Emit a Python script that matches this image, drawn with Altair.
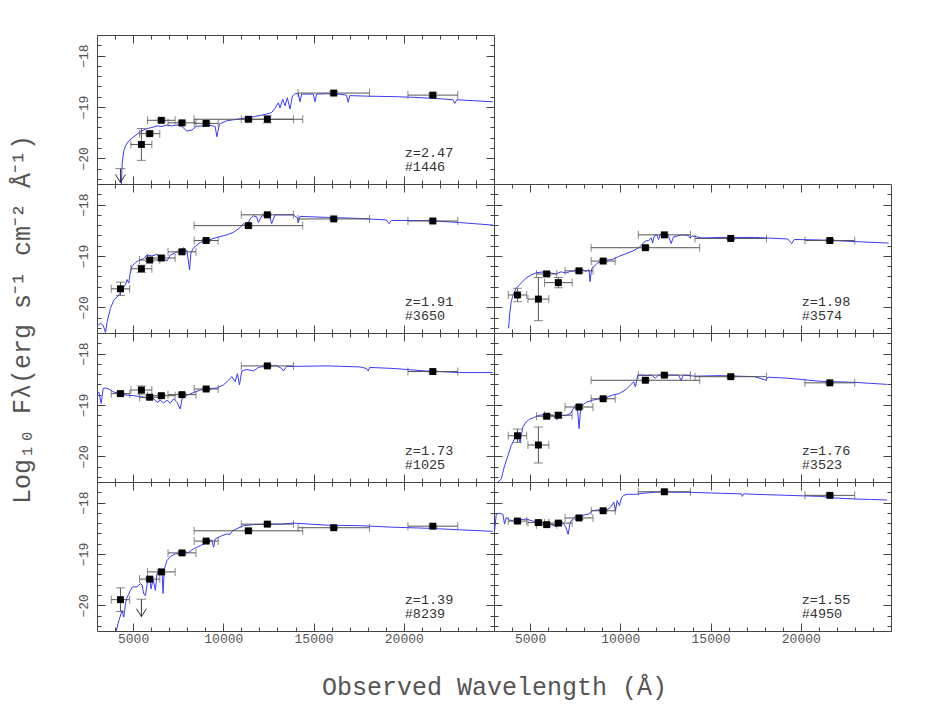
import altair as alt
import pandas as pd

# ---------------- data ----------------
# filter centres and half-widths (Angstrom), shared by all panels
FILTER_WL = [4300, 5460, 5920, 6565, 7710, 9050, 11390, 12440, 16120, 21610]
FILTER_HW = [510, 580, 560, 765, 775, 665, 3010, 1445, 1980, 1380]

PANEL_Z = ["z=2.47", "z=1.91", "z=1.98", "z=1.73", "z=1.76", "z=1.39", "z=1.55"]
PANEL_ID = ["#1446", "#3650", "#3574", "#1025", "#3523", "#8239", "#4950"]

# log10 flux per filter (None = no detection / not observed) and its error
P1_FLUX = [None, -19.73, -19.52, -19.26, -19.31, -19.32, -19.24, -19.24, -18.73, -18.77]
P1_ERR = [0, 0.31, 0.03, 0.03, 0.03, 0.03, 0.03, 0.07, 0.03, 0.03]
P2_FLUX = [-19.64, -19.25, -19.08, -19.04, -18.92, -18.70, -18.41, -18.20, -18.28, -18.32]
P2_ERR = [0.13, 0.07, 0.03, 0.04, 0.03, 0.02, 0.03, 0.02, 0.02, 0.02]
P3_FLUX = [-19.76, -19.84, -19.35, -19.52, -19.29, -19.10, -18.84, -18.59, -18.66, -18.70]
P3_ERR = [0.13, 0.42, 0.03, 0.10, 0.03, 0.02, 0.03, 0.02, 0.02, 0.02]
P4_FLUX = [-18.78, -18.71, -18.85, -18.82, -18.80, -18.69, None, -18.24, None, -18.35]
P4_ERR = [0.03, 0.08, 0.03, 0.03, 0.03, 0.02, 0, 0.02, 0, 0.02]
P5_FLUX = [-19.60, -19.78, -19.22, -19.20, -19.04, -18.88, -18.52, -18.42, -18.45, -18.57]
P5_ERR = [0.13, 0.35, 0.03, 0.05, 0.03, 0.02, 0.02, 0.02, 0.02, 0.02]
P6_FLUX = [-19.89, None, -19.49, -19.35, -18.98, -18.75, -18.55, -18.42, -18.49, -18.46]
P6_ERR = [0.23, 0, 0.03, 0.04, 0.03, 0.02, 0.02, 0.02, 0.02, 0.02]
P7_FLUX = [-18.36, -18.39, -18.43, -18.40, -18.30, -18.16, None, -17.79, None, -17.86]
P7_ERR = [0.03, 0.03, 0.03, 0.03, 0.03, 0.02, 0, 0.02, 0, 0.02]

# upper limits: [filter index, limit, arrow tip]
P1_LIMIT = [0, -20.20, -20.47]
P6_LIMIT = [1, -19.88, -20.22]

# best-fit model spectra
P1_SPEC_WL = [4355, 4392, 4484, 4576, 4761, 5037, 5220, 5405, 5590, 5774, 6050, 6326, 6600, 6879, 7150, 7431,
              7700, 7984, 8260, 8500, 8721, 9000, 9273, 9550, 9642, 9789, 10194, 10931, 11300, 11668, 12405,
              12680, 12860, 13050, 13140, 13290, 13420, 13550, 13694, 13830, 13970, 14150, 14250, 14340,
              14984, 15076, 15168, 16089, 16826, 16918, 17010, 18000, 19500, 20325, 22000, 22720, 22831,
              22941, 24930]
P1_SPEC_F = [-20.50, -20.10, -19.86, -19.76, -19.66, -19.58, -19.53, -19.48, -19.45, -19.42, -19.40, -19.37,
             -19.38, -19.35, -19.37, -19.35, -19.38, -19.47, -19.45, -19.38, -19.37, -19.37, -19.36, -19.38,
             -19.58, -19.33, -19.27, -19.23, -19.21, -19.19, -19.14, -19.11, -19.03, -18.92, -19.02, -18.85,
             -18.98, -18.82, -19.04, -18.79, -18.74, -18.74, -18.90, -18.75, -18.75, -18.90, -18.75, -18.74,
             -18.77, -18.91, -18.78, -18.79, -18.80, -18.81, -18.84, -18.86, -18.93, -18.86, -18.90]
P2_SPEC_WL = [3011, 3195, 3342, 3471, 3563, 3747, 3932, 4208, 4392, 4576, 4668, 4761, 4853, 4945, 5129, 5313,
              5589, 5774, 6050, 6326, 6510, 6879, 7063, 7339, 7616, 7800, 7984, 8131, 8205, 8352, 8721, 9089,
              9642, 10194, 10563, 10931, 11115, 11300, 11484, 11668, 11852, 11944, 12129, 12405, 12589,
              12681, 12865, 13878, 14099, 14155, 14247, 15720, 17562, 19036, 19183, 19312, 21246, 23088,
              24930]
P2_SPEC_F = [-20.36, -20.31, -20.35, -20.49, -20.28, -20.02, -19.86, -19.76, -19.66, -19.56, -19.46, -19.53,
             -19.30, -19.20, -19.13, -19.09, -19.05, -18.98, -19.00, -18.97, -19.02, -19.10, -18.98, -18.94,
             -18.89, -18.84, -18.90, -19.27, -18.94, -18.84, -18.74, -18.70, -18.64, -18.59, -18.54, -18.45,
             -18.37, -18.41, -18.28, -18.22, -18.24, -18.35, -18.22, -18.21, -18.25, -18.37, -18.20, -18.20,
             -18.26, -18.35, -18.23, -18.25, -18.27, -18.30, -18.37, -18.31, -18.31, -18.35, -18.40]
P3_SPEC_WL = [3807, 3862, 3954, 4083, 4229, 4505, 4780, 5055, 5330, 5697, 6064, 6431, 6707, 6982, 7257, 7532,
              7808, 8083, 8266, 8321, 8413, 8725, 9092, 9551, 9918, 10285, 10652, 11019, 11202, 11386, 11569,
              11716, 11790, 11881, 12028, 12120, 12212, 12670, 12817, 12946, 13404, 13771, 13863, 13992,
              14505, 15606, 17441, 19276, 19497, 19643, 21111, 22946, 24873]
P3_SPEC_F = [-20.41, -20.15, -19.89, -19.73, -19.63, -19.53, -19.43, -19.37, -19.33, -19.31, -19.33, -19.35,
             -19.31, -19.33, -19.30, -19.29, -19.25, -19.30, -19.27, -19.50, -19.25, -19.14, -19.09, -19.07,
             -19.01, -18.96, -18.91, -18.84, -18.78, -18.71, -18.70, -18.65, -18.75, -18.61, -18.59, -18.68,
             -18.58, -18.61, -18.76, -18.63, -18.59, -18.60, -18.65, -18.61, -18.65, -18.64, -18.64, -18.67,
             -18.76, -18.68, -18.69, -18.72, -18.75]
P4_SPEC_WL = [3011, 3103, 3232, 3342, 3471, 3655, 3932, 4300, 4668, 5037, 5405, 5774, 6142, 6326, 6510, 6695,
              6879, 7063, 7247, 7431, 7616, 7708, 7984, 8352, 8721, 9089, 9642, 10010, 10287, 10471, 10655,
              10784, 10894, 11023, 11300, 11668, 11944, 12405, 12957, 13233, 13326, 13510, 13878, 15720,
              17562, 17930, 18023, 18115, 19404, 21246, 23088, 24930]
P4_SPEC_F = [-18.78, -18.75, -18.97, -18.68, -18.67, -18.69, -18.75, -18.78, -18.81, -18.82, -18.84, -18.86,
             -18.88, -18.95, -18.91, -18.96, -18.91, -18.97, -18.88, -18.95, -19.08, -18.88, -18.81, -18.76,
             -18.71, -18.69, -18.67, -18.61, -18.52, -18.45, -18.55, -18.39, -18.61, -18.34, -18.31, -18.34,
             -18.27, -18.24, -18.24, -18.29, -18.34, -18.25, -18.25, -18.24, -18.26, -18.29, -18.34, -18.27,
             -18.29, -18.34, -18.37, -18.37]
P5_SPEC_WL = [3220, 3404, 3587, 3771, 3954, 4138, 4321, 4450, 4596, 4780, 4963, 5239, 5514, 5881, 6248, 6523,
              6707, 6982, 7257, 7441, 7624, 7716, 7808, 8083, 8450, 8817, 9184, 9551, 9918, 10285, 10560,
              10744, 10835, 10964, 11202, 11386, 11753, 11936, 12120, 13221, 13368, 13496, 14138, 15606,
              17441, 18084, 18175, 19276, 21111, 22946, 23864, 24781]
P5_SPEC_F = [-20.50, -20.44, -20.18, -19.99, -19.79, -19.66, -19.59, -19.73, -19.43, -19.33, -19.28, -19.24,
             -19.20, -19.19, -19.20, -19.28, -19.20, -19.21, -19.16, -19.04, -19.06, -19.46, -19.04, -18.95,
             -18.91, -18.88, -18.86, -18.81, -18.78, -18.71, -18.61, -18.55, -18.65, -18.42, -18.42, -18.43,
             -18.42, -18.48, -18.42, -18.42, -18.52, -18.42, -18.44, -18.43, -18.45, -18.52, -18.46, -18.48,
             -18.54, -18.56, -18.58, -18.60]
P6_SPEC_WL = [4024, 4208, 4392, 4484, 4576, 4668, 4761, 4853, 4945, 5037, 5221, 5405, 5497, 5589, 5682, 5810,
              5921, 5995, 6105, 6234, 6326, 6455, 6603, 6658, 6731, 6879, 7063, 7339, 7708, 8076, 8352, 8721,
              9089, 9366, 9458, 9550, 9826, 10194, 10379, 10471, 10747, 11115, 11668, 12405, 13142, 13878,
              14799, 15720, 17562, 19404, 21246, 23088, 24930]
P6_SPEC_F = [-20.55, -20.30, -20.10, -20.23, -19.97, -19.84, -19.78, -19.71, -19.65, -19.64, -19.64, -19.58,
             -19.60, -19.78, -19.81, -19.52, -19.45, -19.68, -19.49, -19.71, -19.39, -19.29, -19.32, -19.77,
             -19.29, -19.13, -19.05, -19.00, -18.98, -18.97, -18.90, -18.84, -18.77, -18.73, -18.87, -18.71,
             -18.66, -18.61, -18.62, -18.56, -18.51, -18.45, -18.43, -18.42, -18.42, -18.40, -18.42, -18.44,
             -18.45, -18.48, -18.50, -18.53, -18.56]
P7_SPEC_WL = [3000, 3037, 3128, 3312, 3495, 3587, 3679, 3862, 4138, 4413, 4780, 5055, 5330, 5697, 5973, 6156,
              6431, 6615, 6835, 6982, 7110, 7220, 7532, 7899, 8266, 8450, 8817, 9184, 9459, 9643, 9734, 9826,
              9955, 10065, 10193, 10377, 10835, 11202, 11936, 12395, 13037, 13771, 14689, 15606, 16707, 16762,
              16836, 17441, 19276, 21111, 21845, 22946, 23864, 24781]
P7_SPEC_F = [-18.55, -18.53, -18.22, -18.21, -18.23, -18.42, -18.29, -18.34, -18.36, -18.34, -18.32, -18.35,
             -18.38, -18.40, -18.48, -18.42, -18.47, -18.38, -18.40, -18.48, -18.62, -18.38, -18.27, -18.25,
             -18.22, -18.16, -18.14, -18.16, -18.09, -17.99, -18.16, -17.96, -18.06, -17.90, -17.86, -17.84,
             -17.84, -17.82, -17.80, -17.79, -17.80, -17.80, -17.81, -17.82, -17.83, -17.88, -17.83, -17.84,
             -17.86, -17.88, -17.91, -17.93, -17.94, -17.95]

PANELS = [
    dict(flux=P1_FLUX, err=P1_ERR, wl=P1_SPEC_WL, f=P1_SPEC_F, limit=P1_LIMIT),
    dict(flux=P2_FLUX, err=P2_ERR, wl=P2_SPEC_WL, f=P2_SPEC_F, limit=None),
    dict(flux=P3_FLUX, err=P3_ERR, wl=P3_SPEC_WL, f=P3_SPEC_F, limit=None),
    dict(flux=P4_FLUX, err=P4_ERR, wl=P4_SPEC_WL, f=P4_SPEC_F, limit=None),
    dict(flux=P5_FLUX, err=P5_ERR, wl=P5_SPEC_WL, f=P5_SPEC_F, limit=None),
    dict(flux=P6_FLUX, err=P6_ERR, wl=P6_SPEC_WL, f=P6_SPEC_F, limit=P6_LIMIT),
    dict(flux=P7_FLUX, err=P7_ERR, wl=P7_SPEC_WL, f=P7_SPEC_F, limit=None),
]

# ---------------- styling ----------------
W, H = 397, 149
FONT = "Liberation Mono"
INK = "#444444"
TXT = "#555555"
BLUE = "#3a3aff"
ERRC = "#555555"
MAJ, MIN = 8, 4

XS = alt.Scale(domain=[3000, 25000], nice=False, zero=False)
YS = alt.Scale(domain=[-20.5, -17.6], nice=False, zero=False)
MAJOR_X = [5000, 10000, 15000, 20000]
MINOR_X = [w for w in range(4000, 25000, 1000) if w % 5000 != 0]
MAJOR_Y = [-20, -19, -18]
MINOR_Y = [-20.4, -20.2, -19.8, -19.6, -19.4, -19.2, -18.8, -18.6, -18.4, -18.2, -17.8]


def ax(orient, values, size, **kw):
    base = dict(orient=orient, values=values, tickSize=alt.ExprRef(expr=str(-size)),
                domain=False, grid=False, ticks=True, tickColor=INK, tickWidth=1, labels=False)
    base.update(kw)
    return alt.Axis(**base)


def make_panel(k, left, bottom):
    p = PANELS[k]
    rows = []
    for wl, hw, f, e in zip(FILTER_WL, FILTER_HW, p["flux"], p["err"]):
        if f is None:
            continue
        rows.append(dict(wl=wl, lo=wl - hw, hi=wl + hw, f=f, flo=f - e, fhi=f + e))
    phot = pd.DataFrame(rows)
    xcaps = pd.DataFrame([dict(x=r[c], f=r["f"]) for r in rows for c in ("lo", "hi")])
    ycaps = pd.DataFrame([dict(wl=r["wl"], y=r[c]) for r in rows for c in ("flo", "fhi")])
    spec = pd.DataFrame(dict(wl=p["wl"], f=p["f"]))

    xkw = {}
    if bottom:
        xkw = dict(labels=True, format="d", labelFont=FONT, labelFontSize=13, labelColor=TXT,
                   labelPadding=MAJ + 1, labelFlush=False)
    if k == 5:
        xkw.update(title="Observed Wavelength (Å)", titleX=W, titleY=55, titleAlign="center",
                   titleBaseline="middle", titleFont=FONT, titleFontSize=25, titleFontWeight="normal",
                   titleColor=TXT)
    ykw = {}
    if left:
        ykw = dict(labels=True, format="d", labelFont=FONT, labelFontSize=13, labelColor=TXT,
                   labelAngle=270, labelAlign="center", labelBaseline="alphabetic",
                   labelPadding=MAJ + 10, labelFlush=False)
    if k == 1:
        ykw.update(title="Log₁₀ Fλ(erg s⁻¹ cm⁻² Å⁻¹)", titleX=-76, titleY=135, titleAngle=270,
                   titleAlign="center", titleBaseline="middle", titleFont=FONT, titleFontSize=25,
                   titleFontWeight="normal", titleColor=TXT)

    line = alt.Chart(spec).mark_line(color=BLUE, strokeWidth=1, clip=True).encode(
        x=alt.X("wl:Q", scale=XS, axis=ax("bottom", MAJOR_X, MAJ, **xkw),
                **({} if k == 5 else {"title": None})),
        y=alt.Y("f:Q", scale=YS, axis=ax("left", MAJOR_Y, MAJ, **ykw),
                **({} if k == 1 else {"title": None})),
        order="wl:Q",
    )
    xerr = alt.Chart(phot).mark_rule(color=ERRC, strokeWidth=1, clip=True).encode(
        x=alt.X("lo:Q", scale=XS, axis=ax("bottom", MINOR_X, MIN), title=None),
        x2="hi:Q",
        y=alt.Y("f:Q", scale=YS, axis=ax("left", MINOR_Y, MIN), title=None),
    )
    xcap = alt.Chart(xcaps).mark_tick(color=ERRC, orient="vertical", size=8, thickness=1, clip=True).encode(
        x=alt.X("x:Q", scale=XS, axis=None), y=alt.Y("f:Q", scale=YS, axis=None))
    yerr = alt.Chart(phot).mark_rule(color=ERRC, strokeWidth=1, clip=True).encode(
        x=alt.X("wl:Q", scale=XS, axis=ax("top", MINOR_X, MIN), title=None),
        y=alt.Y("flo:Q", scale=YS, axis=ax("right", MINOR_Y, MIN), title=None),
        y2="fhi:Q",
    )
    ycap = alt.Chart(ycaps).mark_tick(color=ERRC, orient="horizontal", size=9, thickness=1, clip=True).encode(
        x=alt.X("wl:Q", scale=XS, axis=None), y=alt.Y("y:Q", scale=YS, axis=None))
    pts = alt.Chart(phot).mark_square(color="black", size=48, opacity=1).encode(
        x=alt.X("wl:Q", scale=XS, axis=ax("top", MAJOR_X, MAJ), title=None),
        y=alt.Y("f:Q", scale=YS, axis=ax("right", MAJOR_Y, MAJ), title=None),
    )
    labels = pd.DataFrame(dict(t=[PANEL_Z[k], PANEL_ID[k]], y=[-19.89, -20.16]))
    txt = alt.Chart(labels).mark_text(align="left", baseline="middle", font=FONT, fontSize=13.5,
                                      color="#333333").encode(
        x=alt.XDatum(20050, scale=XS, axis=None),
        y=alt.Y("y:Q", scale=YS, axis=None),
        text="t:N",
    )
    layers = [line, xerr, xcap, yerr, ycap, pts, txt]

    if p["limit"] is not None:
        idx, lim, tip = p["limit"]
        ul = pd.DataFrame(dict(wl=[FILTER_WL[idx]], lim=[lim], tip=[tip]))
        stem = alt.Chart(ul).mark_rule(color="#333333", strokeWidth=1).encode(
            x=alt.X("wl:Q", scale=XS, axis=None), y=alt.Y("lim:Q", scale=YS, axis=None), y2="tip:Q")
        cap = alt.Chart(ul).mark_tick(color=ERRC, orient="horizontal", size=10, thickness=1).encode(
            x=alt.X("wl:Q", scale=XS, axis=None), y=alt.Y("lim:Q", scale=YS, axis=None))
        head = alt.Chart(ul).mark_point(shape="M-1,-1.6L0,0L1,-1.6", size=100, filled=False,
                                        color="#333333", strokeWidth=1, opacity=1).encode(
            x=alt.X("wl:Q", scale=XS, axis=None), y=alt.Y("tip:Q", scale=YS, axis=None))
        layers += [stem, cap, head]

    return alt.layer(*layers).resolve_axis(x="independent", y="independent").properties(width=W, height=H)


blank = alt.Chart(pd.DataFrame({"a": [0]})).mark_point(opacity=0).encode(
    x=alt.X("a:Q", axis=None), y=alt.Y("a:Q", axis=None)
).properties(width=W, height=H, view=alt.ViewBackground(stroke="transparent"))

cells = [
    make_panel(0, True, False), blank,
    make_panel(1, True, False), make_panel(2, False, False),
    make_panel(3, True, False), make_panel(4, False, False),
    make_panel(5, True, True), make_panel(6, False, True),
]

chart = alt.concat(*cells, columns=2, spacing=0, bounds="flush").properties(
    padding={"left": 0, "top": 26, "right": 5, "bottom": 5}
).configure_view(stroke=INK, strokeWidth=1)

chart.save("out.html", embed_options={"renderer": "svg", "actions": False})
